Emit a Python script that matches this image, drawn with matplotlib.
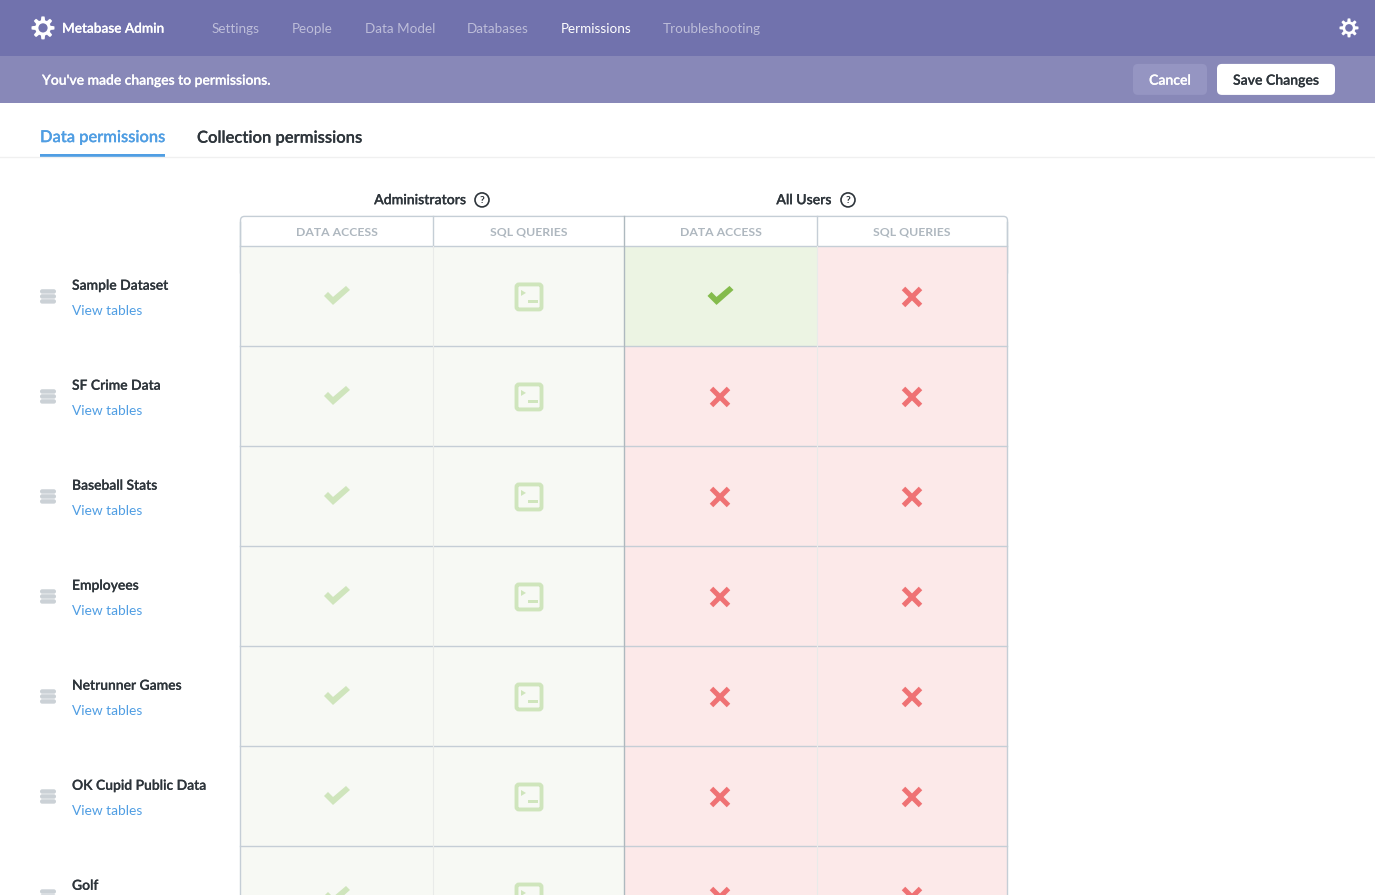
import numpy as np
import matplotlib
matplotlib.use("Agg")
import matplotlib.pyplot as plt
import matplotlib.patheffects as pe
from matplotlib.patches import Rectangle, FancyBboxPatch, Circle, Polygon

plt.rcParams["font.family"] = ["Lato", "DejaVu Sans"]

# dados da tela
nav_items = ["Settings", "People", "Data Model", "Databases", "Permissions", "Troubleshooting"]
nav_x = [212, 292, 365, 467, 561, 663]
databases = ["Sample Dataset", "SF Crime Data", "Baseball Stats", "Employees",
             "Netrunner Games", "OK Cupid Public Data", "Golf"]
groups = ["Administrators", "All Users"]
columns = ["DATA ACCESS", "SQL QUERIES", "DATA ACCESS", "SQL QUERIES"]
# f = fixo (admin), y = permitido, n = negado
data_access_admin = ["f"] * 7
sql_admin = ["t"] * 7
data_access_all = ["y", "n", "n", "n", "n", "n", "n"]
sql_all = ["n"] * 7

col_edges = [240, 433, 625, 817, 1007]
row_top = 246
row_h = 100

PURPLE = "#7172AD"
BANNER = "#8888B8"
BLUE = "#509EE3"
DARK = "#2E353B"
LINE = "#C5CED6"
FADED = "#CFE5BC"
GREEN = "#84BB4C"
RED = "#EF7274"
BG_FIXED = "#F7F9F4"
BG_GREEN = "#ECF4E3"
BG_RED = "#FCE9E9"

fig = plt.figure(figsize=(13.75, 8.951), dpi=100)
ax = fig.add_axes([0, 0, 1, 1])
ax.set_xlim(0, 1375)
ax.set_ylim(895, 0)
ax.axis("off")


def label(x, y, s, size=10, color=DARK, weight="normal", ha="left", va="center"):
    t = ax.text(x, y + 0.8, s, fontsize=size, color=color, fontweight=weight, ha=ha, va=va, zorder=5)
    if weight == "semibold":
        # engrossa um pouco o texto, o Lato daqui fica mais fino que o original
        t.set_path_effects([pe.withStroke(linewidth=0.12, foreground=color)])


def gear(cx, cy, r, bg):
    ang = np.linspace(0, 2 * np.pi, 193)
    rad = r * (0.84 + 0.16 * np.clip(2.2 * np.cos(8 * ang), -1, 1))
    ax.add_patch(Polygon(np.c_[cx + rad * np.cos(ang), cy + rad * np.sin(ang)], fc="white", ec="none"))
    ax.add_patch(Circle((cx, cy), r * 0.4, fc=bg, ec="none"))


def check(cx, cy, color):
    pts = [(-13, -1), (-9, -5), (-4, 0), (9, -11), (13, -7), (-4, 8)]
    ax.add_patch(Polygon([(cx + a, cy + b) for a, b in pts], fc=color, ec="none", zorder=3))


def cross(cx, cy, color):
    for sgn in (1, -1):
        ax.plot([cx - 8.5, cx + 8.5], [cy - 8.5 * sgn, cy + 8.5 * sgn], color=color,
                lw=3.6, solid_capstyle="butt", zorder=3)


def terminal(cx, cy, color, bg):
    ax.add_patch(FancyBboxPatch((cx - 12.5, cy - 12.5), 25, 25, boxstyle="round,pad=0,rounding_size=2.5",
                                fc=bg, ec=color, lw=2.8, zorder=3))
    ax.add_patch(Polygon([(cx - 8, cy - 7), (cx - 8, cy - 1), (cx - 3, cy - 4)], fc=color, ec="none", zorder=3))
    ax.add_patch(Rectangle((cx - 1, cy + 3), 10, 3, fc=color, ec="none", zorder=3))


def db_icon(cx, cy):
    for dy in (-5, 0, 5):
        ax.add_patch(FancyBboxPatch((cx - 8, cy + dy - 2.2), 16, 4.4, boxstyle="round,pad=0,rounding_size=2.2",
                                    fc="#CBD1D6", ec="none", zorder=3))


def help_icon(cx, cy):
    ax.add_patch(Circle((cx, cy), 7, fc="white", ec=DARK, lw=1.2))
    ax.text(cx, cy + 0.3, "?", fontsize=7.5, color=DARK, ha="center", va="center", fontweight="bold")


# barras do topo
ax.add_patch(Rectangle((0, 0), 1375, 56, fc=PURPLE, ec="none"))
ax.add_patch(Rectangle((0, 56), 1375, 47, fc=BANNER, ec="none"))
gear(43, 28, 11.5, PURPLE)
gear(1349, 28, 9.5, PURPLE)
label(62, 28, "Metabase Admin", size=9.8, color="white", weight="semibold")
for name, x in zip(nav_items, nav_x):
    selected = name == "Permissions"
    label(x, 28, name, size=9.75, color="white" if selected else "#BDBDD9")

label(42, 80, "You've made changes to permissions.", size=10, color="white", weight="semibold")
ax.add_patch(FancyBboxPatch((1133, 64), 74, 31, boxstyle="round,pad=0,rounding_size=5", fc="#9595C2", ec="none"))
label(1170, 80, "Cancel", size=10.1, color="white", weight="semibold", ha="center")
ax.add_patch(FancyBboxPatch((1217, 64), 118, 31, boxstyle="round,pad=0,rounding_size=5", fc="white", ec="none"))
label(1276, 80, "Save Changes", size=10.1, color=DARK, weight="semibold", ha="center")

# abas
label(40, 137.4, "Data permissions", size=11.85, color=BLUE, weight="semibold")
label(197, 137, "Collection permissions", size=11.95, color=DARK, weight="semibold")
ax.plot([0, 1375], [157.5, 157.5], color="#F0F0F0", lw=1)
ax.add_patch(Rectangle((40, 154.5), 125, 3, fc=BLUE, ec="none"))

# cabecalho da tabela
for g, i in zip(groups, (0, 2)):
    mid = col_edges[i + 1]
    label(mid - 13, 199.5, g, size=10.1, color=DARK, weight="semibold", ha="center")
    help_icon(mid + (49 if i == 0 else 31), 200)

for i, c in enumerate(columns):
    mid = (col_edges[i] + col_edges[i + 1]) / 2
    label(mid, 234.7, c, size=8.8, color="#AEB7BF", weight="bold", ha="center", va="baseline")

# moldura do cabecalho (a parte de baixo fica atras das celulas)
ax.add_patch(FancyBboxPatch((240.5, 216.5), 767, 60, boxstyle="round,pad=0,rounding_size=4",
                            fc="white", ec=LINE, lw=1, zorder=0.5))

# linhas da tabela
states = list(zip(data_access_admin, sql_admin, data_access_all, sql_all))
for r, (db, row) in enumerate(zip(databases, states)):
    top = row_top + r * row_h
    cy = top + row_h / 2 + 1
    db_icon(48, cy - 0.5)
    label(72, top + 39, db, size=10, color=DARK, weight="semibold")
    # a ultima linha sai da tela, o link nao aparece
    if top + 64 < 895:
        label(72, top + 64, "View tables", size=9.95, color=BLUE)
    for c, st in enumerate(row):
        x0, x1 = col_edges[c], col_edges[c + 1]
        mid = (x0 + x1) / 2
        bg = {"f": BG_FIXED, "t": BG_FIXED, "y": BG_GREEN, "n": BG_RED}[st]
        ax.add_patch(Rectangle((x0, top), x1 - x0, row_h, fc=bg, ec="none", zorder=1))
        if st == "f":
            check(mid + 0.5, cy, FADED)
        elif st == "t":
            terminal(mid, cy, FADED, bg)
        elif st == "y":
            check(mid - 0.5, cy, GREEN)
        else:
            cross(mid - 1 if c == 2 else mid, cy, RED)

# grade
for k in range(len(databases) + 1):
    y = row_top + k * row_h + 0.5
    ax.plot([240, 1007.5], [y, y], color=LINE, lw=1, zorder=2)
for x in (433, 817):
    ax.plot([x + 0.5, x + 0.5], [216, row_top], color=LINE, lw=1, zorder=2)
    ax.plot([x, x], [row_top, 895], color="#E9EBE9", lw=0.8, zorder=2)
ax.plot([624.5, 624.5], [216.5, 895], color="#AEB9BF", lw=1, zorder=2)
for x in (240.5, 1007.5):
    ax.plot([x, x], [222, 895], color=LINE, lw=1, zorder=2)

fig.savefig("out.png", dpi=100)
